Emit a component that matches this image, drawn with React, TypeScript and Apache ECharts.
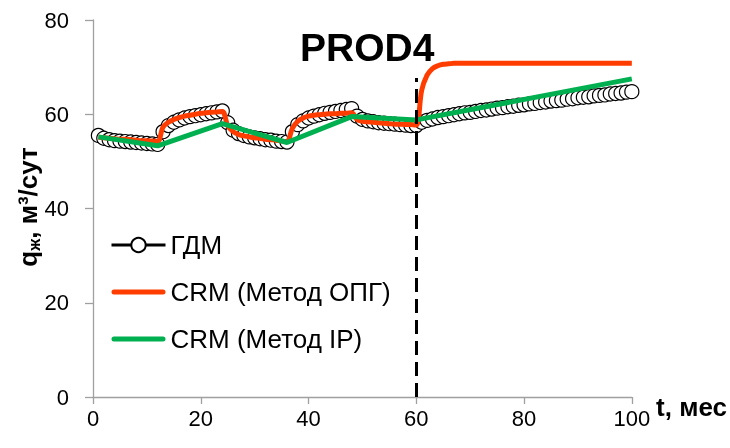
import React, { useEffect, useRef } from 'react';
import * as echarts from 'echarts';

const months = Array.from({ length: 100 }, (_, i) => i + 1);

const gdm = [
  55.5, 54.9, 54.6, 54.4, 54.3, 54.2, 54.1, 54.0, 53.9, 53.8, 53.7, 53.6,
  56.3, 57.6, 58.3, 58.8, 59.2, 59.5, 59.7, 59.9, 60.1, 60.3, 60.5, 60.7,
  58.2, 56.6, 55.9, 55.5, 55.2, 55.0, 54.8, 54.6, 54.5, 54.3, 54.2, 54.1,
  56.3, 57.8, 58.6, 59.2, 59.6, 59.9, 60.2, 60.4, 60.6, 60.8, 61.0, 61.2,
  59.6, 58.9, 58.6, 58.4, 58.2, 58.1, 58.0, 57.9, 57.8, 57.7, 57.6, 57.6,
  58.3, 58.7, 59.0, 59.3, 59.5, 59.7, 59.9, 60.1, 60.3, 60.4,
  60.6, 60.8, 60.9, 61.1, 61.3, 61.4, 61.6, 61.7, 61.9, 62.0,
  62.2, 62.3, 62.5, 62.6, 62.8, 62.9, 63.0, 63.2, 63.3, 63.5,
  63.6, 63.7, 63.9, 64.0, 64.1, 64.3, 64.4, 64.5, 64.7, 64.8,
];

const crmOpg = [
  55.1, 55.0, 54.9, 54.8, 54.7, 54.7, 54.6, 54.5, 54.4, 54.4, 54.3, 54.2,
  57.3, 58.3, 58.9, 59.3, 59.6, 59.8, 60.0, 60.2, 60.3, 60.4, 60.5, 60.6,
  57.6, 56.3, 55.7, 55.4, 55.2, 55.0, 54.9, 54.7, 54.6, 54.5, 54.3, 54.2,
  57.0, 58.5, 59.2, 59.6, 59.8, 59.9, 60.0, 60.1, 60.1, 60.2, 60.2, 60.3,
  58.9, 58.5, 58.4, 58.3, 58.2, 58.1, 58.0, 57.9, 57.9, 57.8, 57.8, 57.7,
  65.1, 68.3, 69.7, 70.3, 70.6, 70.7,
  70.8, 70.8, 70.8, 70.8, 70.8, 70.8, 70.8, 70.8, 70.8, 70.8,
  70.8, 70.8, 70.8, 70.8, 70.8, 70.8, 70.8, 70.8, 70.8, 70.8,
  70.8, 70.8, 70.8, 70.8, 70.8, 70.8, 70.8, 70.8, 70.8, 70.8,
  70.8, 70.8, 70.8, 70.8,
];

const ipT = [1, 12, 24, 36, 48, 60, 100];
const ipQ = [55.2, 53.3, 58.0, 54.0, 59.5, 58.8, 67.5];

const eventT = 60;
const eventTop = 67.7;

const xTicks = { min: 0, max: 100, interval: 20 };
const yTicks = { min: 0, max: 80, interval: 20 };

const names = ['ГДМ', 'CRM (Метод ОПГ)', 'CRM (Метод IP)'];
const colors = ['#000000', '#ff3d00', '#00b050'];

export default function App() {
  const ref = useRef<HTMLDivElement>(null);
  useEffect(() => {
    const chart = echarts.init(ref.current!, null, { renderer: 'svg' });
    const font = '"Liberation Sans", Arial, sans-serif';
    const axisColor = '#a0a0a0';
    const barIcon = 'path://M2.5,0L51.5,0A2.5,2.5,0,0,1,51.5,5L2.5,5A2.5,2.5,0,0,1,2.5,0Z';
    chart.setOption({
      animation: false,
      textStyle: { fontFamily: font },
      title: {
        text: 'PROD4',
        left: 300,
        top: 28,
        padding: 0,
        textStyle: { fontSize: 39, fontWeight: 'bold', color: '#000', fontFamily: font },
      },
      grid: { left: 93, right: 96, top: 20, bottom: 51 },
      legend: {
        orient: 'vertical',
        left: 110,
        top: 232,
        padding: 0,
        itemWidth: 54,
        itemHeight: 18,
        itemGap: 21,
        symbolKeepAspect: true,
        textStyle: { fontSize: 26, color: '#000', fontFamily: font },
        data: [
          { name: names[0], lineStyle: { width: 3, color: colors[0] } },
          { name: names[1], icon: barIcon, itemStyle: { color: colors[1] } },
          { name: names[2], icon: barIcon, itemStyle: { color: colors[2] } },
        ],
      },
      xAxis: {
        type: 'value',
        ...xTicks,
        name: 't, мес',
        nameLocation: 'end',
        nameGap: 16,
        nameTextStyle: {
          fontSize: 26,
          fontWeight: 'bold',
          color: '#000',
          fontFamily: font,
          align: 'left',
          verticalAlign: 'top',
          lineHeight: 20,
        },
        axisLine: { lineStyle: { color: axisColor, width: 1.3 } },
        axisTick: { show: true, length: 7, lineStyle: { color: axisColor, width: 1.3 } },
        axisLabel: { margin: 10, fontSize: 22, color: '#000', fontFamily: font },
        splitLine: { show: false },
      },
      yAxis: {
        type: 'value',
        ...yTicks,
        axisLine: { show: true, lineStyle: { color: axisColor, width: 1.3 } },
        axisTick: { show: true, length: 8, lineStyle: { color: axisColor, width: 1.3 } },
        axisLabel: { margin: 24, fontSize: 22, color: '#000', fontFamily: font },
        splitLine: { show: false },
      },
      graphic: [
        {
          type: 'text',
          x: 28,
          y: 207,
          rotation: Math.PI / 2,
          style: {
            text: '{a|q}{s|ж}{a|, м³/сут}',
            align: 'center',
            verticalAlign: 'middle',
            fill: '#000',
            rich: {
              a: { fontSize: 26, fontWeight: 'bold', fontFamily: font, lineHeight: 30, fill: '#000' },
              s: { fontSize: 17, fontWeight: 'bold', fontFamily: font, lineHeight: 17, verticalAlign: 'bottom', fill: '#000' },
            },
          },
        },
      ],
      series: [
        {
          name: names[0],
          type: 'line',
          data: months.map((m, i) => [m, gdm[i]]),
          symbol: 'circle',
          symbolSize: 14,
          showSymbol: true,
          showAllSymbol: true,
          lineStyle: { color: colors[0], width: 3 },
          itemStyle: { color: '#fff', borderColor: '#000', borderWidth: 1.2 },
          z: 2,
        },
        {
          name: names[1],
          type: 'line',
          data: months.map((m, i) => [m, crmOpg[i]]),
          smooth: 0.35,
          symbol: 'none',
          lineStyle: { color: colors[1], width: 5 },
          itemStyle: { color: colors[1] },
          z: 3,
        },
        {
          name: names[2],
          type: 'line',
          data: ipT.map((t, i) => [t, ipQ[i]]),
          symbol: 'none',
          lineStyle: { color: colors[2], width: 5 },
          itemStyle: { color: colors[2] },
          z: 4,
          markLine: {
            silent: true,
            symbol: 'none',
            label: { show: false },
            lineStyle: { color: '#000', width: 3, type: [14, 7] },
            data: [[{ coord: [eventT, 0] }, { coord: [eventT, eventTop] }]],
            z: 5,
          },
        },
      ],
    });
    return () => chart.dispose();
  }, []);
  return <div ref={ref} style={{ position: 'fixed', left: 0, top: 0, width: 730, height: 448 }} />;
}
